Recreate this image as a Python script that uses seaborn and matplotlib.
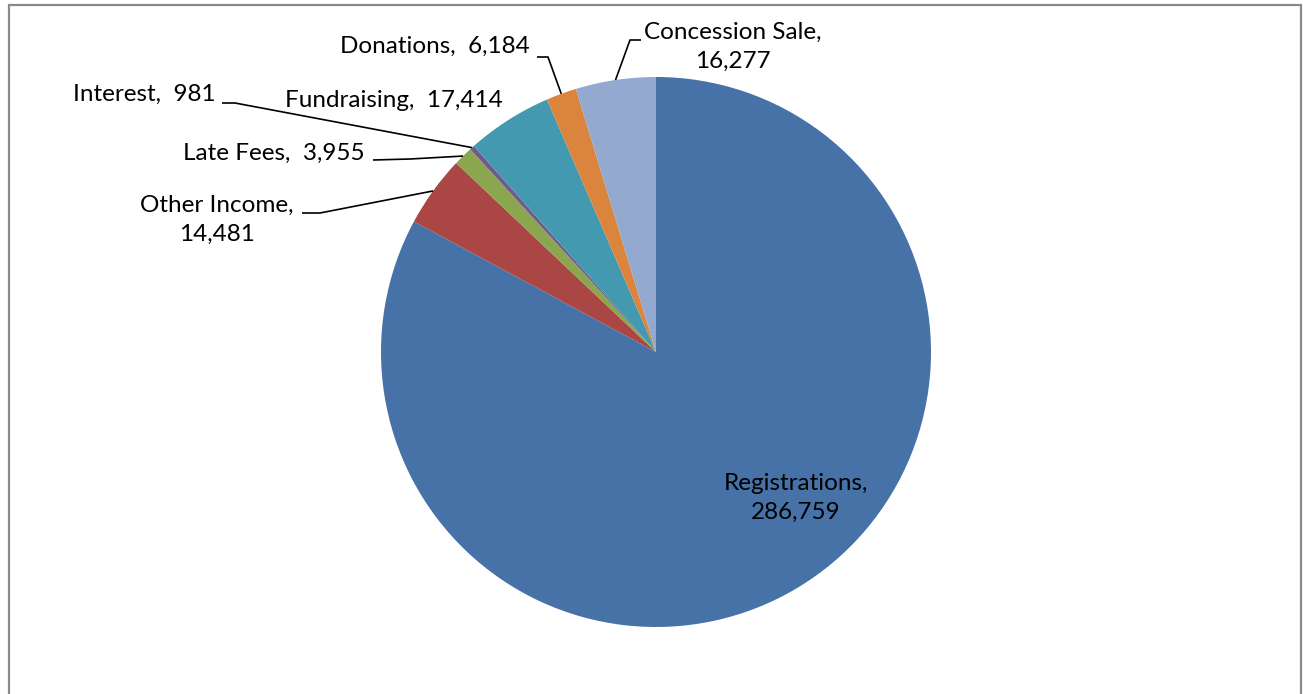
import matplotlib
matplotlib.use("Agg")
import matplotlib.pyplot as plt
import seaborn as sns
import numpy as np
from matplotlib.patches import Rectangle

categories = ["Registrations", "Other Income", "Late Fees", "Interest",
              "Fundraising", "Donations", "Concession Sale"]
values = [286759, 14481, 3955, 981, 17414, 6184, 16277]
value_labels = ["286,759", "14,481", "3,955", "981", "17,414", "6,184", "16,277"]
colors_hex = ["#4672A7", "#AA4744", "#8AA64F", "#71598F", "#4299B0", "#DB843D", "#93A9CF"]

sns.set_theme(style="white")
plt.rcParams['font.family'] = ['Lato', 'DejaVu Sans']

W, H = 1303, 694
fig = plt.figure(figsize=(W / 100, H / 100), dpi=100)
ax = fig.add_axes([0, 0, 1, 1])
ax.set_xlim(0, W)
ax.set_ylim(0, H)
ax.set_aspect('equal')
ax.axis('off')

def P(x, y):
    return (x, H - y)

cx, cy = P(656, 352)
R = 275
palette = sns.color_palette(colors_hex)
wedges, _ = ax.pie(values, colors=palette, startangle=90, counterclock=False,
                   center=(cx, cy), radius=R, frame=True,
                   wedgeprops=dict(linewidth=0, edgecolor='none'))
ax.set_xlim(0, W)
ax.set_ylim(0, H)
ax.axis('off')

# border
ax.add_patch(Rectangle(P(9, 720), 1292, 715, fill=False, edgecolor="#8a8a8a",
                       linewidth=1.6, clip_on=False))

FS = 17.5

def edge_point(i):
    w = wedges[i]
    ang = np.deg2rad((w.theta1 + w.theta2) / 2)
    return cx + R * np.cos(ang), cy + R * np.sin(ang)

def label(i, x, y, ha='center', two_lines=False):
    txt = f"{categories[i]},\n{value_labels[i]}" if two_lines else f"{categories[i]},  {value_labels[i]}"
    ax.text(*P(x, y), txt, ha=ha, va='center', fontsize=FS, color='black',
            multialignment='center', linespacing=1.5)

def leader(i, p0, p1):
    ex, ey = edge_point(i)
    xs = [P(*p0)[0], P(*p1)[0], ex]
    ys = [P(*p0)[1], P(*p1)[1], ey]
    ax.plot(xs, ys, color='black', linewidth=1.2, solid_capstyle='butt')

label(0, 796, 498, two_lines=True)
label(6, 733, 47, two_lines=True)
label(5, 530, 46, ha='right')
label(4, 503, 100, ha='right')
label(3, 216, 94, ha='right')
label(2, 365, 153, ha='right')
label(1, 217, 220, two_lines=True)

leader(6, (641, 40), (630, 40))
leader(5, (537, 57), (548, 57))
leader(3, (222, 103), (235, 103))
leader(2, (373, 160), (410, 159))
leader(1, (302, 213), (320, 213))

fig.savefig("out.png", dpi=100)
